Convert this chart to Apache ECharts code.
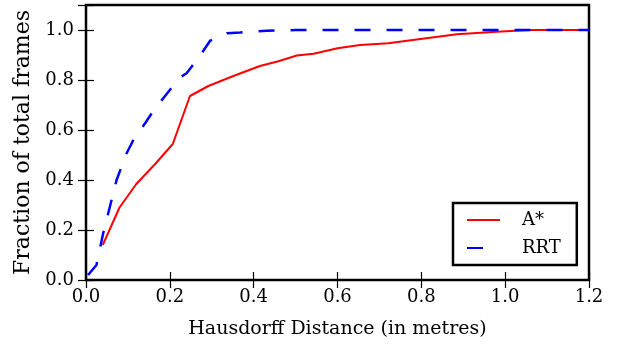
<!DOCTYPE html>
<html>
<head>
<meta charset="utf-8">
<script src="https://cdn.jsdelivr.net/npm/echarts@6/dist/echarts.min.js"></script>
<style>html,body{margin:0;padding:0;background:#fff;}#c{width:617px;height:349px;}</style>
</head>
<body>
<div id="c"></div>
<script>
const aStarX = [0.04, 0.08, 0.12, 0.165, 0.207, 0.248, 0.292, 0.35, 0.415, 0.459, 0.503, 0.543, 0.6, 0.654, 0.721, 0.789, 0.885, 0.98, 1.06, 1.2];
const aStarY = [0.14, 0.29, 0.384, 0.464, 0.544, 0.736, 0.776, 0.815, 0.856, 0.875, 0.898, 0.905, 0.927, 0.94, 0.947, 0.962, 0.983, 0.993, 1.0, 1.0];
const rrtX = [0.005, 0.025, 0.041, 0.057, 0.073, 0.097, 0.113, 0.141, 0.157, 0.181, 0.2, 0.224, 0.24, 0.252, 0.276, 0.296, 0.336, 0.368, 0.431, 0.5, 1.2];
const rrtY = [0.02, 0.06, 0.187, 0.293, 0.4, 0.507, 0.56, 0.627, 0.667, 0.72, 0.76, 0.81, 0.827, 0.853, 0.907, 0.957, 0.987, 0.99, 0.997, 1.0, 1.0];
const xTicks = ['0.0','0.2','0.4','0.6','0.8','1.0','1.2'];
const yTicks = ['0.0','0.2','0.4','0.6','0.8','1.0'];

const font = 'DejaVu Serif';
const pairs = (xs, ys) => xs.map((x, i) => [x, ys[i]]);
const chart = echarts.init(document.getElementById('c'), null, {renderer: 'canvas'});
const tickCommon = {show: true, inside: true, length: 8, lineStyle: {color: '#000', width: 1.2}};
chart.setOption({
  animation: false,
  backgroundColor: '#fff',
  grid: {left: 86, right: 28, top: 5, bottom: 69, show: true, borderColor: '#000', borderWidth: 2.5, backgroundColor: 'transparent'},
  legend: {
    orient: 'vertical', left: 453, top: 203,
    backgroundColor: '#fff', borderColor: '#000', borderWidth: 2.5,
    padding: [8, 16, 8, 13],
    itemWidth: 33, itemHeight: 20, itemGap: 10,
    itemStyle: {opacity: 0},
    textStyle: {fontFamily: font, fontSize: 18, color: '#000', padding: [0, 0, 0, 17]},
    data: ['A*', {name: 'RRT', lineStyle: {type: [16, 40]}}]
  },
  xAxis: [{
    type: 'value', min: 0, max: 1.2, interval: 0.2,
    name: 'Hausdorff Distance (in metres)', nameLocation: 'middle', nameGap: 40,
    nameTextStyle: {fontFamily: font, fontSize: 19, color: '#000'},
    axisLine: {show: false}, splitLine: {show: false},
    axisTick: tickCommon,
    axisLabel: {fontFamily: font, fontSize: 18, color: '#000', margin: 8, formatter: v => xTicks[Math.round(v / 0.2)] || ''}
  }, {
    type: 'value', position: 'top', min: 0, max: 1.2, interval: 0.2,
    axisLine: {show: false}, splitLine: {show: false}, axisTick: tickCommon, axisLabel: {show: false}
  }],
  yAxis: [{
    type: 'value', min: 0, max: 1.1, interval: 0.2,
    name: 'Fraction of total frames', nameLocation: 'middle', nameGap: 51,
    nameTextStyle: {fontFamily: font, fontSize: 22, color: '#000'},
    axisLine: {show: false}, splitLine: {show: false},
    axisTick: tickCommon,
    axisLabel: {fontFamily: font, fontSize: 18, color: '#000', margin: 12, formatter: v => v > 1.05 ? '' : (yTicks[Math.round(v / 0.2)] || '')}
  }, {
    type: 'value', position: 'right', min: 0, max: 1.1, interval: 0.2,
    axisLine: {show: false}, splitLine: {show: false}, axisTick: tickCommon, axisLabel: {show: false}
  }],
  series: [{
    name: 'A*', type: 'line', data: pairs(aStarX, aStarY), showSymbol: false, symbol: 'none',
    lineStyle: {color: '#ff0000', width: 2}, itemStyle: {color: '#ff0000'}, z: 2
  }, {
    name: 'RRT', type: 'line', data: pairs(rrtX, rrtY), showSymbol: false, symbol: 'none',
    lineStyle: {color: '#0000ff', width: 2.5, type: [16, 16]}, itemStyle: {color: '#0000ff'}, z: 3
  }]
});
</script>
</body>
</html>
